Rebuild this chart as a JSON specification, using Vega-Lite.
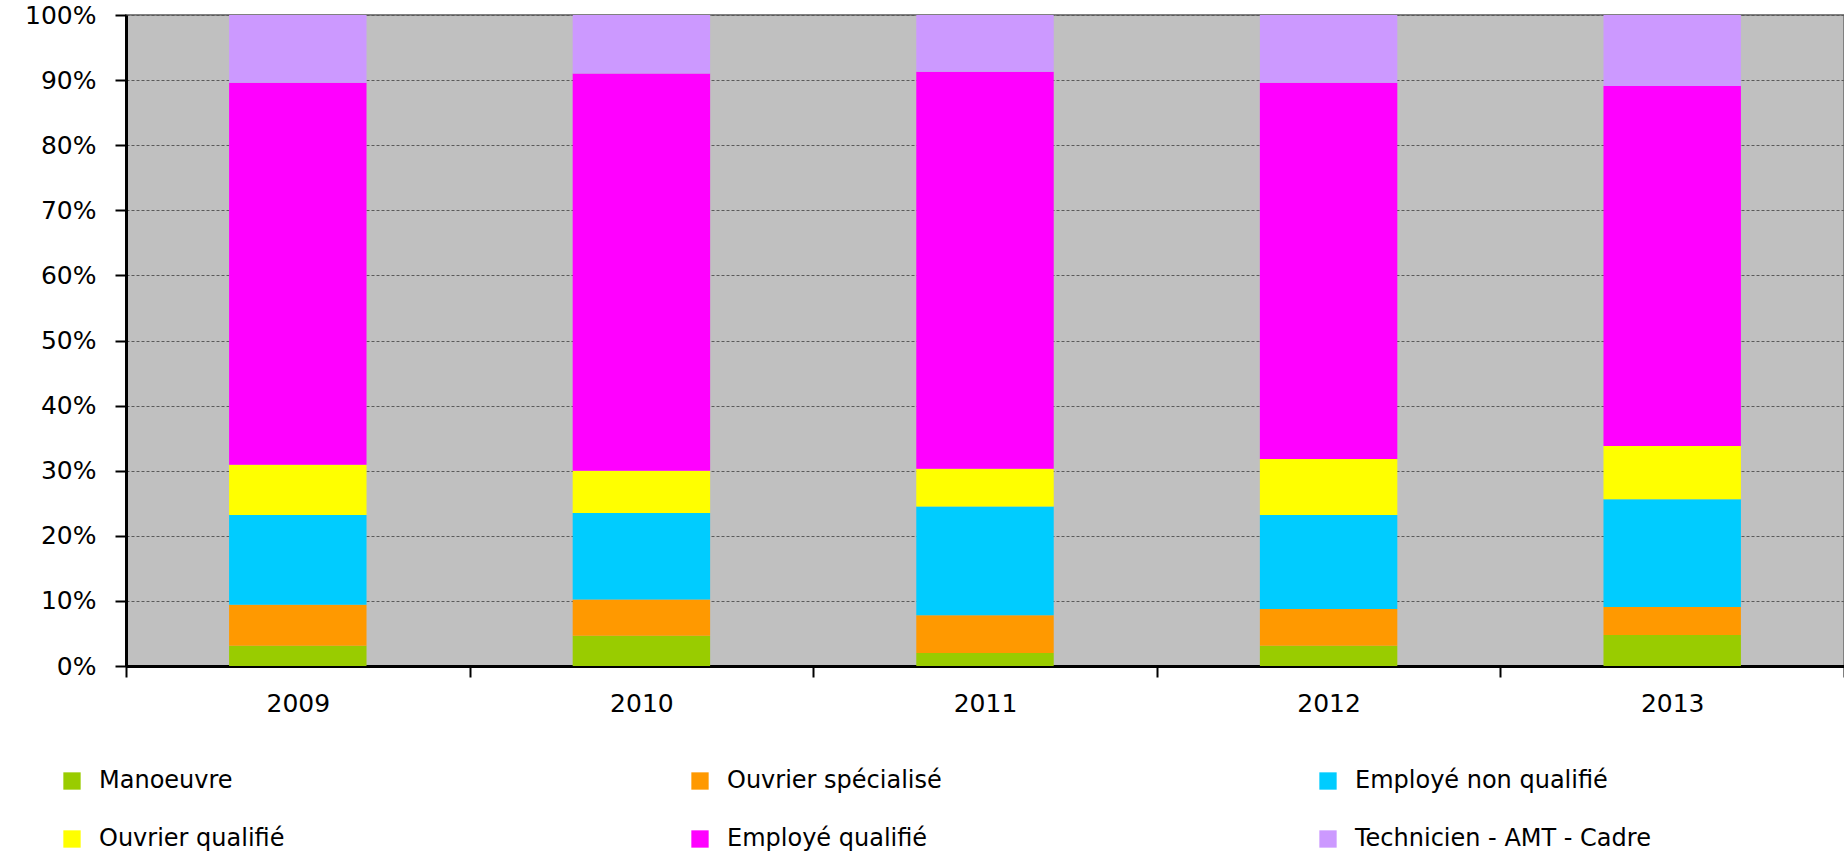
{
  "$schema": "https://vega.github.io/schema/vega-lite/v6.json",
  "width": 1718,
  "height": 651,
  "autosize": {"type": "none"},
  "padding": {"left": 126, "top": 15, "right": 0, "bottom": 185},
  "background": "#FFFFFF",
  "config": {
    "font": "DejaVu Sans",
    "view": {"fill": "#C0C0C0", "stroke": "#808080", "strokeWidth": 2}
  },
  "data": {
    "values": [
      {"year": "2009", "cat": "Manoeuvre", "pct": 3.1},
      {"year": "2009", "cat": "Ouvrier spécialisé", "pct": 6.3},
      {"year": "2009", "cat": "Employé non qualifié", "pct": 13.8},
      {"year": "2009", "cat": "Ouvrier qualifié", "pct": 7.7},
      {"year": "2009", "cat": "Employé qualifié", "pct": 58.7},
      {"year": "2009", "cat": "Technicien - AMT - Cadre", "pct": 10.4},
      {"year": "2010", "cat": "Manoeuvre", "pct": 4.65},
      {"year": "2010", "cat": "Ouvrier spécialisé", "pct": 5.55},
      {"year": "2010", "cat": "Employé non qualifié", "pct": 13.3},
      {"year": "2010", "cat": "Ouvrier qualifié", "pct": 6.5},
      {"year": "2010", "cat": "Employé qualifié", "pct": 61.0},
      {"year": "2010", "cat": "Technicien - AMT - Cadre", "pct": 9.0},
      {"year": "2011", "cat": "Manoeuvre", "pct": 2.0},
      {"year": "2011", "cat": "Ouvrier spécialisé", "pct": 5.8},
      {"year": "2011", "cat": "Employé non qualifié", "pct": 16.7},
      {"year": "2011", "cat": "Ouvrier qualifié", "pct": 5.8},
      {"year": "2011", "cat": "Employé qualifié", "pct": 61.0},
      {"year": "2011", "cat": "Technicien - AMT - Cadre", "pct": 8.7},
      {"year": "2012", "cat": "Manoeuvre", "pct": 3.1},
      {"year": "2012", "cat": "Ouvrier spécialisé", "pct": 5.65},
      {"year": "2012", "cat": "Employé non qualifié", "pct": 14.45},
      {"year": "2012", "cat": "Ouvrier qualifié", "pct": 8.6},
      {"year": "2012", "cat": "Employé qualifié", "pct": 57.8},
      {"year": "2012", "cat": "Technicien - AMT - Cadre", "pct": 10.4},
      {"year": "2013", "cat": "Manoeuvre", "pct": 4.76},
      {"year": "2013", "cat": "Ouvrier spécialisé", "pct": 4.3},
      {"year": "2013", "cat": "Employé non qualifié", "pct": 16.54},
      {"year": "2013", "cat": "Ouvrier qualifié", "pct": 8.2},
      {"year": "2013", "cat": "Employé qualifié", "pct": 55.3},
      {"year": "2013", "cat": "Technicien - AMT - Cadre", "pct": 10.9}
    ]
  },
  "transform": [
    {"calculate": "indexof(['Manoeuvre', 'Ouvrier spécialisé', 'Employé non qualifié', 'Ouvrier qualifié', 'Employé qualifié', 'Technicien - AMT - Cadre'], datum.cat)", "as": "stackOrder"}
  ],
  "mark": {"type": "bar", "width": {"band": 0.4}},
  "encoding": {
    "x": {
      "field": "year",
      "type": "nominal",
      "scale": {"paddingInner": 0, "paddingOuter": 0},
      "axis": {
        "title": null,
        "labelAngle": 0,
        "labelFont": "DejaVu Sans",
        "labelFontSize": 25,
        "labelColor": "#000000",
        "labelPadding": 14,
        "tickBand": "extent",
        "tickSize": 11,
        "tickWidth": 2,
        "tickColor": "#000000",
        "domainColor": "#000000",
        "domainWidth": 3,
        "grid": false
      }
    },
    "y": {
      "field": "pct",
      "type": "quantitative",
      "stack": "normalize",
      "scale": {"domain": [0, 1]},
      "axis": {
        "title": null,
        "format": ".0%",
        "values": [0, 0.1, 0.2, 0.3, 0.4, 0.5, 0.6, 0.7, 0.8, 0.9, 1],
        "labelFont": "DejaVu Sans",
        "labelFontSize": 25,
        "labelColor": "#000000",
        "labelPadding": 19,
        "tickSize": 11,
        "tickWidth": 2,
        "tickColor": "#000000",
        "domainColor": "#000000",
        "domainWidth": 3,
        "grid": true,
        "gridColor": "#5A5A5A",
        "gridWidth": 1,
        "gridDash": [3, 2]
      }
    },
    "order": {"field": "stackOrder", "type": "quantitative", "sort": "ascending"},
    "color": {
      "field": "cat",
      "type": "nominal",
      "sort": ["Manoeuvre", "Ouvrier spécialisé", "Employé non qualifié", "Ouvrier qualifié", "Employé qualifié", "Technicien - AMT - Cadre"],
      "scale": {
        "domain": ["Manoeuvre", "Ouvrier spécialisé", "Employé non qualifié", "Ouvrier qualifié", "Employé qualifié", "Technicien - AMT - Cadre"],
        "range": ["#99CC00", "#FF9900", "#00CCFF", "#FFFF00", "#FF00FF", "#CC99FF"]
      },
      "legend": {
        "title": null,
        "orient": "none",
        "legendX": -66,
        "legendY": 754,
        "direction": "horizontal",
        "columns": 3,
        "gridAlign": "all",
        "columnPadding": 293,
        "rowPadding": 34,
        "padding": 0,
        "symbolType": "square",
        "symbolSize": 300,
        "symbolStrokeWidth": 0,
        "symbolOpacity": 1,
        "labelFont": "DejaVu Sans",
        "labelFontSize": 24,
        "labelColor": "#000000",
        "labelOffset": 15,
        "labelLimit": 600
      }
    }
  }
}
